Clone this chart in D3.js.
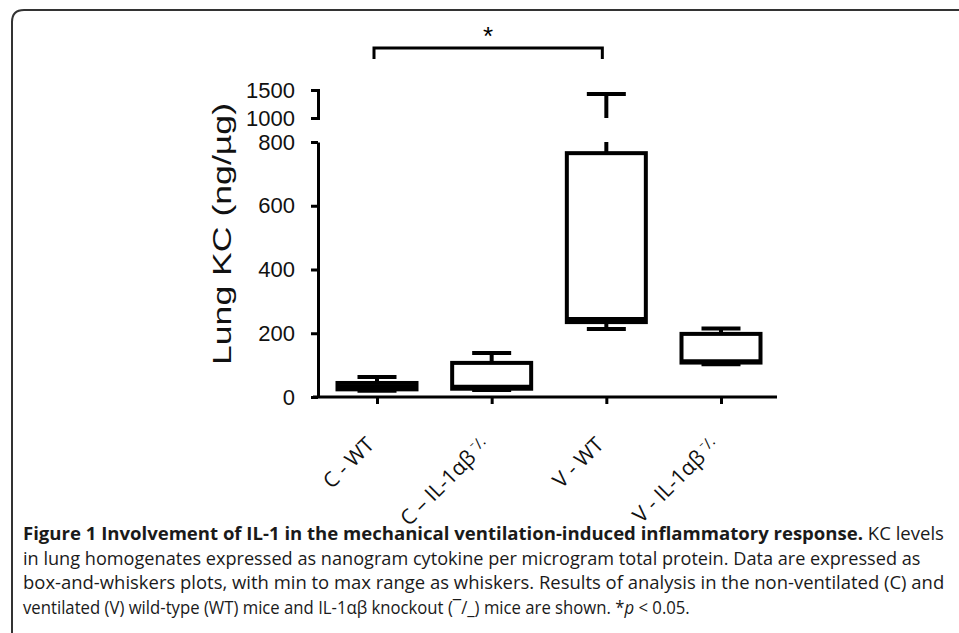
<!DOCTYPE html>
<html>
<head>
<meta charset="utf-8">
<script src="https://cdn.jsdelivr.net/npm/d3@7"></script>
<style>
  body { margin: 0; background: #fff; }
  svg { display: block; }
</style>
</head>
<body>
<svg width="959" height="633"></svg>
<script>
const svg = d3.select('svg');

// data
const groups = ['C - WT', 'C – IL-1αβ', 'V - WT', 'V - IL-1αβ'];
const suffixes = ['', '⁻/.', '', '⁻/.'];
const mins = [20, 22, 213, 103];
const q1s = [24, 26, 235, 108];
const medians = [32, 32, 245, 112];
const q3s = [44, 107, 765, 198];
const maxs = [63, 138, 1430, 215];
const lowTicks = [0, 200, 400, 600, 800];
const highTicks = [1000, 1500];
const yLabel = 'Lung KC (ng/µg)';
const captionBold = 'Figure 1 Involvement of IL-1 in the mechanical ventilation-induced inflammatory response.';
const captionLines = [
  ' KC levels',
  'in lung homogenates expressed as nanogram cytokine per microgram total protein. Data are expressed as',
  'box-and-whiskers plots, with min to max range as whiskers. Results of analysis in the non-ventilated (C) and',
  'ventilated (V) wild-type (WT) mice and IL-1αβ knockout (¯/_) mice are shown. *'
];

const chartFont = '"Liberation Sans", Arial, sans-serif';

// frame
svg.append('path')
  .attr('d', 'M12,640 V22 Q12,10 24,10 H970')
  .attr('fill', 'none')
  .attr('stroke', '#333')
  .attr('stroke-width', 2);

// scales (broken y axis)
const yLow = d3.scaleLinear().domain([0, 800]).range([397, 142]);
const yHigh = d3.scaleLinear().domain([1000, 1500]).range([118, 90]);
const x = d3.scalePoint().domain(groups).range([377, 721]);
const yv = v => v > 800 ? yHigh(v) : yLow(v);

const boxW = 79, capW = 39;

//axes
const gyLow = svg.append('g')
  .attr('transform', 'translate(318,0)')
  .call(d3.axisLeft(yLow).tickValues(lowTicks).tickFormat(d3.format('d'))
    .tickSize(7).tickSizeOuter(0).tickPadding(16));
const gyHigh = svg.append('g')
  .attr('transform', 'translate(318,0)')
  .call(d3.axisLeft(yHigh).tickValues(highTicks).tickFormat(d3.format('d'))
    .tickSize(7).tickSizeOuter(7).tickPadding(16));

[gyLow, gyHigh].forEach(g => {
  g.selectAll('path, line').attr('stroke', '#000').attr('stroke-width', 3);
  g.selectAll('text')
    .attr('font-family', chartFont)
    .attr('font-size', 22)
    .attr('fill', '#111');
});

const gx = svg.append('g')
  .attr('transform', 'translate(0,397)')
  .call(d3.axisBottom(x).tickSize(7).tickSizeOuter(0).tickFormat(''));
gx.select('.domain').remove();
gx.selectAll('line').attr('stroke', '#000').attr('stroke-width', 3);
gx.append('line')
  .attr('x1', 313).attr('x2', 777)
  .attr('stroke', '#000').attr('stroke-width', 3);

// x labels
gx.selectAll('.tick').append('text')
  .attr('transform', 'translate(-2,49) rotate(-45)')
  .attr('text-anchor', 'end')
  .attr('fill', '#111')
  .attr('font-family', '"Open Sans", "Noto Sans", sans-serif')
  .attr('font-size', 21)
  .each(function (d, i) {
    const t = d3.select(this);
    t.append('tspan').text(d);
    if (suffixes[i]) {
      t.append('tspan').text(' ' + suffixes[i]).attr('font-size', 15).attr('dy', -5);
    }
  });

// boxes
const boxes = svg.append('g').selectAll('g').data(groups).join('g')
  .attr('fill', 'none').attr('stroke', '#000').attr('stroke-width', 4);

boxes.append('rect')
  .attr('x', d => x(d) - boxW / 2)
  .attr('width', boxW)
  .attr('y', (d, i) => yv(q3s[i]))
  .attr('height', (d, i) => yv(q1s[i]) - yv(q3s[i]));

boxes.append('line')
  .attr('x1', d => x(d) - boxW / 2).attr('x2', d => x(d) + boxW / 2)
  .attr('y1', (d, i) => yv(medians[i])).attr('y2', (d, i) => yv(medians[i]));

// lower whisker + cap
boxes.append('line')
  .attr('x1', d => x(d)).attr('x2', d => x(d))
  .attr('y1', (d, i) => yv(q1s[i])).attr('y2', (d, i) => yv(mins[i]));
boxes.append('line')
  .attr('x1', d => x(d) - capW / 2).attr('x2', d => x(d) + capW / 2)
  .attr('y1', (d, i) => yv(mins[i])).attr('y2', (d, i) => yv(mins[i]));

// upper whisker, split at the axis break
boxes.append('line')
  .attr('x1', d => x(d)).attr('x2', d => x(d))
  .attr('y1', (d, i) => yv(q3s[i]))
  .attr('y2', (d, i) => maxs[i] > 800 ? yLow(800) : yv(maxs[i]));
boxes.filter((d, i) => maxs[i] > 800).append('line')
  .attr('x1', d => x(d)).attr('x2', d => x(d))
  .attr('y1', yHigh(1000))
  .attr('y2', d => yHigh(maxs[groups.indexOf(d)]));
boxes.append('line')
  .attr('x1', d => x(d) - capW / 2).attr('x2', d => x(d) + capW / 2)
  .attr('y1', (d, i) => yv(maxs[i])).attr('y2', (d, i) => yv(maxs[i]));

// significance bracket
const bx1 = x(groups[0]) - 3, bx2 = x(groups[2]) - 4;
svg.append('path')
  .attr('d', `M${bx1},59 V48 H${bx2} V59`)
  .attr('fill', 'none').attr('stroke', '#000').attr('stroke-width', 3);
svg.append('text')
  .attr('x', (bx1 + bx2) / 2).attr('y', 45)
  .attr('text-anchor', 'middle')
  .attr('font-family', chartFont)
  .attr('font-size', 26)
  .text('*');

// y label
svg.append('text')
  .attr('transform', 'translate(231,234) rotate(-90)')
  .attr('text-anchor', 'middle')
  .attr('font-family', chartFont)
  .attr('font-size', 26)
  .attr('fill', '#111')
  .attr('textLength', 262)
  .attr('lengthAdjust', 'spacingAndGlyphs')
  .text(yLabel);

// caption, squeezed to the condensed width of the original
const capFont = '"Open Sans", "Noto Sans", sans-serif';
const lineEnds = [945, 921, 945, 690];
captionLines.forEach((line, i) => {
  const y = 540 + i * 24.6;
  const t = svg.append('text')
    .attr('font-family', capFont)
    .attr('font-size', 18)
    .attr('fill', '#1a1a1a');
  if (i === 0) {
    t.append('tspan').attr('font-weight', 'bold').text(captionBold);
  }
  t.append('tspan').text(line);
  if (i === 3) {
    t.append('tspan').attr('font-style', 'italic').text('p');
    t.append('tspan').text(' < 0.05.');
  }
  const w = t.node().getComputedTextLength();
  const k = (lineEnds[i] - 23) / w;
  t.attr('transform', `translate(23,${y}) scale(${k},1)`);
});
</script>
</body>
</html>
